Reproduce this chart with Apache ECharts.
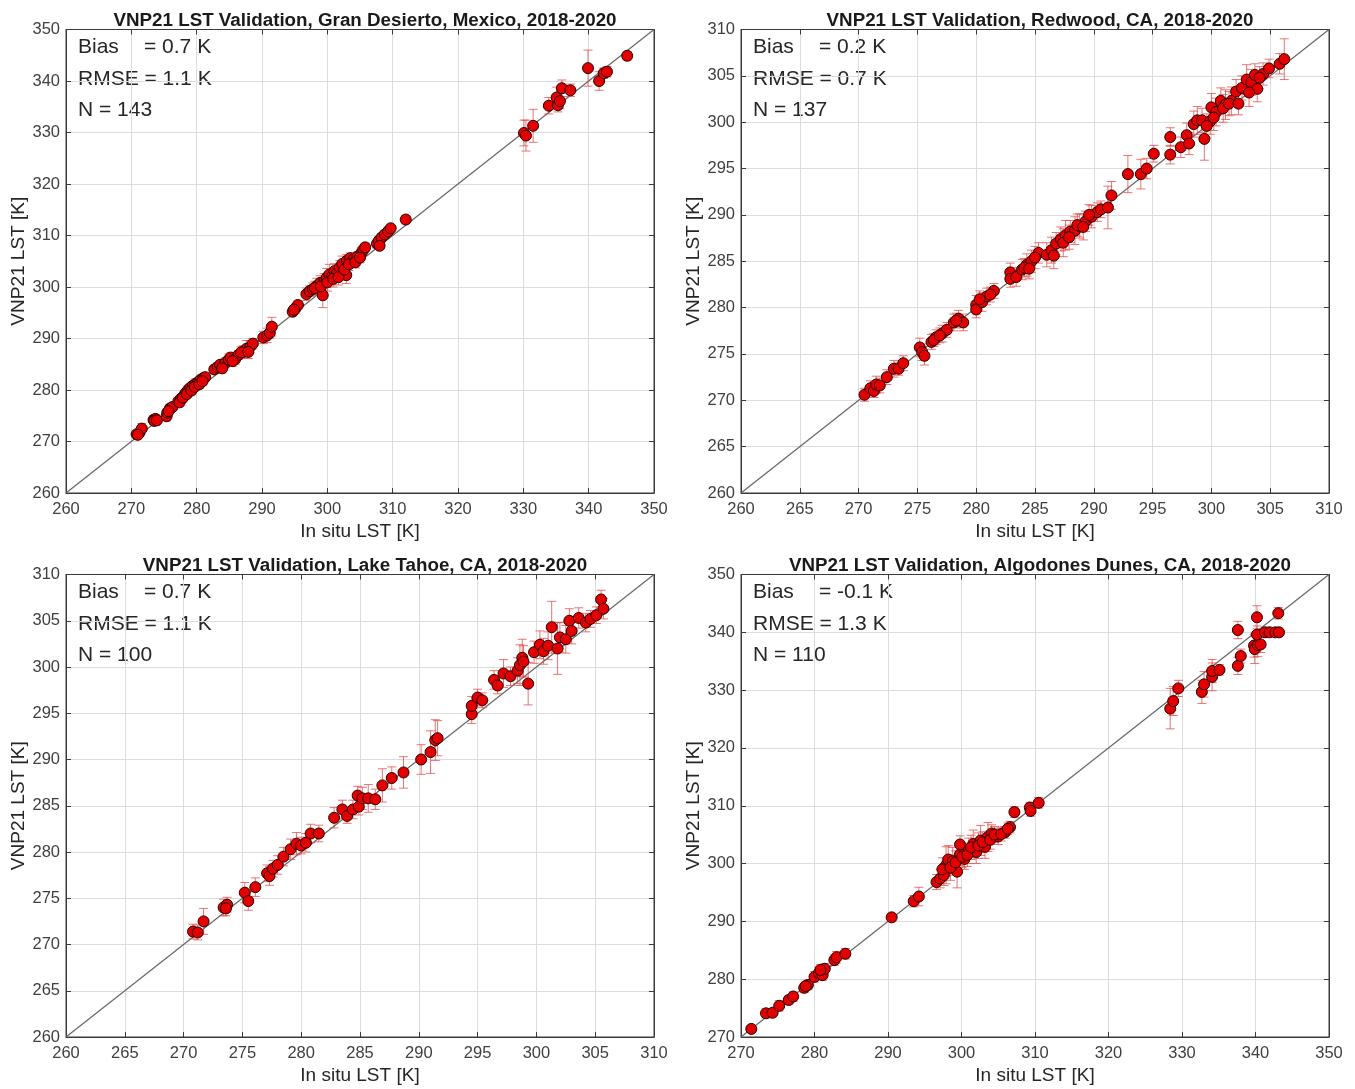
<!DOCTYPE html>
<html>
<head>
<meta charset="utf-8">
<script src="https://cdn.jsdelivr.net/npm/echarts@6/dist/echarts.min.js"></script>
<style>
html,body{margin:0;padding:0;background:#fff;}
#chart{width:1355px;height:1089px;}
</style>
</head>
<body>
<div id="chart"></div>
<script>
// ---- Data: [in situ LST, VNP21 LST, error-bar half length] (K) ----
var desiertoPts = [
[270.8,271.4,0.6],[271.2,271.6,0.6],[271.6,272.5,1.0],[271.0,271.3,0.5],
[273.4,274.2,0.8],[273.7,274.4,0.8],[273.5,274.0,0.6],[273.9,274.1,0.6],
[275.4,274.9,0.9],[275.5,275.6,0.8],[275.9,276.4,0.8],[276.3,276.7,0.6],[275.7,275.9,0.7],
[277.2,277.8,0.7],[277.6,278.3,0.7],[278.0,278.8,0.8],[278.3,279.4,0.7],[278.7,280.0,0.8],[279.0,280.4,0.7],[279.4,280.8,0.8],[279.8,281.2,0.9],[280.2,281.5,0.7],[280.6,282.0,0.6],[281.0,282.3,0.7],[281.3,282.5,0.8],
[277.4,277.6,0.7],[277.9,278.5,0.8],[278.5,279.2,0.7],[279.2,279.9,0.8],[279.7,280.6,0.7],[280.4,281.1,0.8],[280.9,281.7,0.7],
[282.7,284.0,0.8],[283.2,284.4,0.9],[283.6,284.9,0.8],[284.0,284.6,1.0],[284.4,285.3,0.9],[284.9,285.9,1.1],[285.2,286.3,0.9],[285.9,286.0,1.0],[286.4,286.8,0.8],[287.1,287.4,1.2],[287.6,288.0,1.6],[288.2,288.4,1.2],[288.6,289.0,1.0],
[283.9,284.2,0.9],[285.5,285.6,1.0],[286.8,287.3,1.1],[287.9,287.4,1.3],
[290.2,290.2,1.2],[290.8,290.6,1.4],[291.2,291.1,1.0],[291.5,292.3,1.8],
[294.7,295.2,0.8],[295.1,295.8,0.9],[295.5,296.5,0.8],[294.9,295.6,0.8],
[296.8,298.6,1.2],[297.3,299.2,1.0],[297.8,299.6,1.2],[298.4,300.2,1.5],[298.9,300.8,1.4],[299.3,298.4,2.4],[299.5,301.0,1.6],[299.9,301.8,1.8],[300.3,302.4,2.0],[300.7,302.0,1.5],[301.1,303.1,1.4],[301.5,302.7,1.2],[301.9,303.8,1.3],[302.3,304.5,1.5],[302.9,302.3,1.6],[303.0,305.1,1.2],[303.5,305.6,1.0],[304.0,305.3,1.0],[304.6,305.9,0.9],[305.2,306.6,1.0],[305.5,307.2,0.9],[305.8,307.7,0.8],
[298.1,299.8,1.3],[299.0,300.1,1.5],[300.0,300.9,1.7],[300.9,301.6,1.6],[301.7,301.9,1.5],[302.6,303.4,1.4],[303.3,304.4,1.2],[304.3,304.8,1.1],[305.0,305.7,1.0],
[307.6,308.4,0.8],[307.9,309.0,0.8],[308.3,309.6,0.8],[308.8,310.2,0.8],[309.3,310.8,0.8],[309.7,311.4,0.6],[308.0,308.0,0.7],
[312.0,313.1,0.8],
[330.1,329.9,2.5],[330.4,329.4,3.0],[331.5,331.3,3.2],
[333.9,335.2,1.6],[335.1,336.8,2.0],[335.3,335.3,1.3],[335.6,336.1,1.5],[335.9,338.6,1.6],[337.2,338.2,1.2],
[339.9,342.5,3.5],[341.6,340.0,1.8],[342.3,341.5,1.0],[342.8,341.8,1.0],[345.9,344.9,0.8]
];
var redwoodPts = [
[270.5,270.6,0.7],[271.0,271.3,0.8],[271.3,271.0,0.7],[271.5,271.7,0.9],[271.8,271.6,0.8],
[272.4,272.5,0.8],
[273.0,273.4,0.9],[273.4,273.4,0.7],[273.8,274.0,0.8],
[275.2,275.7,1.0],[275.4,275.2,0.9],[275.6,274.8,1.0],
[276.2,276.3,0.8],[276.6,276.8,0.8],[277.1,277.2,0.9],[277.5,277.6,0.8],[276.4,276.5,0.7],[276.9,277.0,0.8],
[278.1,278.4,0.9],[278.5,278.8,0.9],[278.9,278.4,0.9],[278.3,278.6,0.8],
[280.0,280.3,1.0],[280.0,279.8,0.9],[280.5,280.6,1.0],[280.9,281.2,0.9],[281.5,281.8,0.8],[280.3,280.9,0.9],[281.2,281.4,0.8],
[282.9,283.8,1.0],[282.9,283.1,0.9],[283.4,283.3,1.0],[283.9,284.1,1.1],[284.3,284.6,1.2],[284.7,285.0,1.2],[285.3,285.9,1.1],[286.0,285.7,1.3],[286.4,286.2,1.4],[286.8,286.9,1.2],[287.2,287.4,1.3],[287.6,287.8,1.6],[288.0,288.2,1.2],[288.4,288.3,1.5],[288.8,288.8,1.3],[289.3,289.3,1.1],[289.8,289.8,1.2],[290.3,290.3,1.0],[290.6,290.6,0.9],
[284.1,284.3,1.0],[284.5,284.2,1.1],[285.0,285.4,1.2],[286.6,285.6,1.4],[287.4,287.0,1.5],[287.9,287.6,1.3],[288.6,288.9,1.2],[289.1,288.7,1.4],[289.6,290.0,1.1],
[291.2,290.8,2.3],[291.5,292.1,1.5],[292.9,294.4,2.0],[294.0,294.4,1.6],[294.5,295.0,1.1],[295.1,296.6,0.9],
[296.5,296.5,1.0],[296.5,298.4,1.0],[297.4,297.3,1.1],[297.9,298.6,1.3],[298.1,297.7,1.2],[298.5,299.8,1.4],[298.8,300.2,1.5],[299.2,300.2,1.3],[299.4,298.2,2.3],[299.9,300.1,1.4],[300.0,301.6,1.5],[300.4,301.1,1.5],[300.8,302.3,1.4],[301.2,301.9,1.6],[301.7,302.3,1.5],[302.1,303.3,1.3],[302.6,303.7,1.3],[303.0,304.6,1.6],[303.4,304.3,1.4],[303.7,305.1,1.2],[303.9,303.6,1.4],[304.4,305.2,1.2],[304.9,305.8,1.0],[305.8,306.3,1.1],[306.2,306.8,2.2],
[299.6,299.6,1.3],[300.2,300.5,1.4],[301.0,301.5,1.5],[301.5,302.0,1.3],[302.3,302.0,1.2],[303.2,303.2,1.5],[304.1,304.8,1.2]
];
var tahoePts = [
[270.8,271.4,0.8],[271.2,271.3,0.8],[271.7,272.5,1.4],
[273.4,274.0,0.9],[273.7,274.3,0.8],[273.6,273.9,0.8],
[275.2,275.6,1.1],[275.5,274.7,1.0],[276.1,276.2,1.0],
[277.1,277.7,0.9],[277.3,277.4,1.0],[277.6,278.2,0.9],[278.0,278.6,1.0],[278.5,279.5,1.0],[279.1,280.3,1.1],[279.6,280.9,1.2],[280.0,280.7,0.9],[280.4,281.0,1.0],[280.8,282.0,1.0],[281.5,282.0,0.9],
[282.8,283.7,1.1],[283.5,284.6,1.0],[283.9,283.9,0.8],[284.4,284.6,1.0],[284.8,286.1,1.0],[284.9,284.9,0.9],[285.2,285.8,1.2],[285.7,285.8,1.5],[286.3,285.7,1.1],[286.9,287.2,1.8],[287.7,288.0,1.2],[288.7,288.6,1.7],
[290.2,290.0,1.6],[291.0,290.8,2.3],[291.4,292.1,2.2],[291.6,292.3,1.9],
[294.5,294.9,1.0],[294.5,295.8,1.0],[295.0,296.7,0.9],[295.4,296.4,0.8],
[296.4,298.6,1.0],[296.7,298.0,0.9],[297.2,299.3,1.5],[297.8,299.0,1.0],[298.4,299.6,1.4],[298.6,300.2,2.2],[298.8,301.0,2.0],[298.9,300.6,1.7],[299.3,298.2,2.3],[299.8,301.6,1.2],[300.3,302.4,1.5],[300.6,301.7,1.4],[301.0,302.3,1.5],[301.3,304.3,2.8],[301.8,302.0,2.8],[302.0,303.2,1.6],[302.5,303.0,1.5],[302.8,305.0,1.3],[303.0,303.9,1.4],[303.6,305.3,1.1],[304.2,304.8,1.0],[304.6,305.2,0.9],[305.1,305.6,0.9],[305.5,307.3,1.0],[305.7,306.3,1.1]
];
var algodonesPts = [
[271.4,271.4,0.6],
[273.4,274.1,0.8],[274.3,274.2,0.7],[275.2,275.4,0.9],
[276.5,276.4,0.7],[277.1,277.0,0.8],
[278.6,278.5,0.8],[279.1,279.0,0.8],[278.8,278.8,0.7],
[280.0,280.4,0.9],[280.6,281.1,1.0],[281.1,280.7,0.9],[281.4,281.8,0.9],[280.8,281.6,0.9],
[282.7,283.3,0.9],[283.0,283.8,1.0],[284.2,284.4,0.9],
[290.5,290.7,0.6],
[293.5,293.5,1.0],[294.2,294.3,1.6],
[296.6,296.8,1.3],[297.1,297.4,1.6],[297.6,298.0,1.8],[297.9,299.7,3.2],[298.2,300.7,2.4],[298.8,300.4,2.4],[299.4,298.6,2.8],[299.8,301.6,2.0],[299.8,303.3,1.5],[300.4,300.8,1.8],[301.0,302.2,2.2],[301.6,303.4,2.4],[302.0,302.0,2.0],[302.6,304.0,2.6],[303.2,302.9,2.0],[303.6,304.6,2.5],[304.1,305.2,1.5],[305.0,304.7,1.4],[305.9,305.4,1.0],[306.6,306.3,1.0],
[297.4,299.0,2.0],[298.5,299.3,2.2],[299.2,300.2,2.0],[300.1,301.2,1.9],[300.8,301.5,2.0],[301.3,302.8,2.1],[302.3,303.1,2.2],[302.9,303.7,1.8],[303.9,304.1,1.6],[304.5,305.0,1.4],[305.4,305.1,1.2],[306.3,306.0,1.0],
[307.2,308.9,0.9],[309.3,309.7,0.8],[309.4,309.1,0.9],[310.5,310.5,0.9],
[328.4,326.8,3.5],[328.8,328.1,2.5],[329.5,330.3,1.4],
[332.7,329.7,2.0],[333.0,331.0,2.2],[334.1,332.3,2.4],[334.1,333.3,2.0],[335.1,333.5,0.9],
[337.6,334.2,1.5],[337.6,340.4,1.5],[338.0,335.9,1.2],
[339.8,337.7,2.0],[339.9,337.1,2.5],[340.3,337.8,2.0],[340.2,342.6,2.0],[340.2,339.6,1.5],[340.7,337.9,1.4],[341.3,340.0,0.5],[341.9,340.0,0.5],[342.7,340.0,0.5],[343.1,343.3,1.0],[343.2,340.0,0.5]
];

var panelTitles = [
  'VNP21 LST Validation, Gran Desierto, Mexico, 2018-2020',
  'VNP21 LST Validation, Redwood, CA, 2018-2020',
  'VNP21 LST Validation, Lake Tahoe, CA, 2018-2020',
  'VNP21 LST Validation, Algodones Dunes, CA, 2018-2020'
];
var biasVals = ['0.7', '0.2', '0.7', '-0.1'];
var rmseVals = ['1.1', '0.7', '1.1', '1.3'];
var nVals = ['143', '137', '100', '110'];
var axisMins = [260, 260, 260, 270];
var axisMaxs = [350, 310, 310, 350];
var axisSteps = [10, 5, 5, 10];
var xAxisName = 'In situ LST [K]';
var yAxisName = 'VNP21 LST [K]';
var panelData = [desiertoPts, redwoodPts, tahoePts, algodonesPts];

// ---- Layout ----
var FONT = 'Liberation Sans, Arial, Helvetica, sans-serif';
var boxes = [
  {left: 66, top: 29.5, width: 588, height: 463.5},
  {left: 741, top: 29.5, width: 588, height: 463.5},
  {left: 66, top: 574.5, width: 588, height: 462.5},
  {left: 741, top: 574.5, width: 588, height: 462.5}
];

var chart = echarts.init(document.getElementById('chart'), null, {renderer: 'canvas'});

var grids = [], xAxes = [], yAxes = [], series = [], titles = [], graphics = [];

function errRender(params, api) {
  var x = api.value(0), y = api.value(1), e = api.value(2);
  var t = api.coord([x, y + e]);
  var b = api.coord([x, y - e]);
  var hw = 4.5;
  var st = {stroke: 'rgba(225,70,70,0.75)', lineWidth: 1};
  return {type: 'group', children: [
    {type: 'line', shape: {x1: t[0], y1: t[1], x2: b[0], y2: b[1]}, style: st},
    {type: 'line', shape: {x1: t[0] - hw, y1: t[1], x2: t[0] + hw, y2: t[1]}, style: st},
    {type: 'line', shape: {x1: b[0] - hw, y1: b[1], x2: b[0] + hw, y2: b[1]}, style: st}
  ]};
}

for (var i = 0; i < 4; i++) {
  var bx = boxes[i];
  grids.push({left: bx.left, top: bx.top, width: bx.width, height: bx.height,
    show: true, borderColor: '#3a3a3a', borderWidth: 1, backgroundColor: '#fff', containLabel: false});
  var axCommon = {
    type: 'value', gridIndex: i, min: axisMins[i], max: axisMaxs[i], interval: axisSteps[i],
    nameLocation: 'middle',
    nameTextStyle: {fontFamily: FONT, fontSize: 19, color: '#262626'},
    axisLine: {show: true, lineStyle: {color: '#3a3a3a', width: 1}},
    axisTick: {show: true, inside: true, length: 5, lineStyle: {color: '#3a3a3a'}},
    axisLabel: {fontFamily: FONT, fontSize: 16.5, color: '#404040'},
    splitLine: {show: true, lineStyle: {color: '#dcdcdc', width: 1}}
  };
  xAxes.push(Object.assign({}, axCommon, {name: xAxisName, nameGap: 29,
    axisLabel: Object.assign({}, axCommon.axisLabel, {margin: 8})}));
  yAxes.push(Object.assign({}, axCommon, {name: yAxisName, nameGap: 38,
    axisLabel: Object.assign({}, axCommon.axisLabel, {margin: 6})}));
  // top / right tick-only axes for the box look
  xAxes.push(Object.assign({}, axCommon, {position: 'top', name: '', axisLabel: {show: false}, splitLine: {show: false}}));
  yAxes.push(Object.assign({}, axCommon, {position: 'right', name: '', axisLabel: {show: false}, splitLine: {show: false}}));

  var xi = i * 2, yi = i * 2;
  series.push({
    type: 'line', xAxisIndex: xi, yAxisIndex: yi, silent: true, symbol: 'none', z: 2,
    lineStyle: {color: '#666666', width: 1.2},
    data: [[axisMins[i], axisMins[i]], [axisMaxs[i], axisMaxs[i]]]
  });
  series.push({
    type: 'custom', xAxisIndex: xi, yAxisIndex: yi, renderItem: errRender, z: 3, silent: true,
    encode: {x: 0, y: 1}, data: panelData[i], clip: true
  });
  series.push({
    type: 'scatter', xAxisIndex: xi, yAxisIndex: yi, z: 4, symbol: 'circle', symbolSize: 11,
    itemStyle: {color: '#e20000', borderColor: '#2a0000', borderWidth: 1, opacity: 1},
    data: panelData[i].map(function (p) { return [p[0], p[1]]; })
  });

  titles.push({
    text: panelTitles[i], left: bx.left + bx.width / 2, top: bx.top - 23, textAlign: 'center',
    textStyle: {fontFamily: FONT, fontSize: 18.8, fontWeight: 'bold', color: '#1a1a1a'}
  });
  var tx = bx.left + 12, ty = bx.top + 19;
  var ts = {fontFamily: FONT, fontSize: 21, fill: '#262626'};
  graphics.push({type: 'text', left: tx, top: ty - 12, style: Object.assign({}, ts, {text: 'Bias'})});
  graphics.push({type: 'text', left: tx + 66, top: ty - 12, style: Object.assign({}, ts, {text: '= ' + biasVals[i] + ' K'})});
  graphics.push({type: 'text', left: tx, top: ty + 20, style: Object.assign({}, ts, {text: 'RMSE = ' + rmseVals[i] + ' K'})});
  graphics.push({type: 'text', left: tx, top: ty + 51, style: Object.assign({}, ts, {text: 'N = ' + nVals[i]})});
}

chart.setOption({
  animation: false,
  backgroundColor: '#ffffff',
  title: titles,
  grid: grids,
  xAxis: xAxes,
  yAxis: yAxes,
  series: series,
  graphic: graphics
});
</script>
</body>
</html>
